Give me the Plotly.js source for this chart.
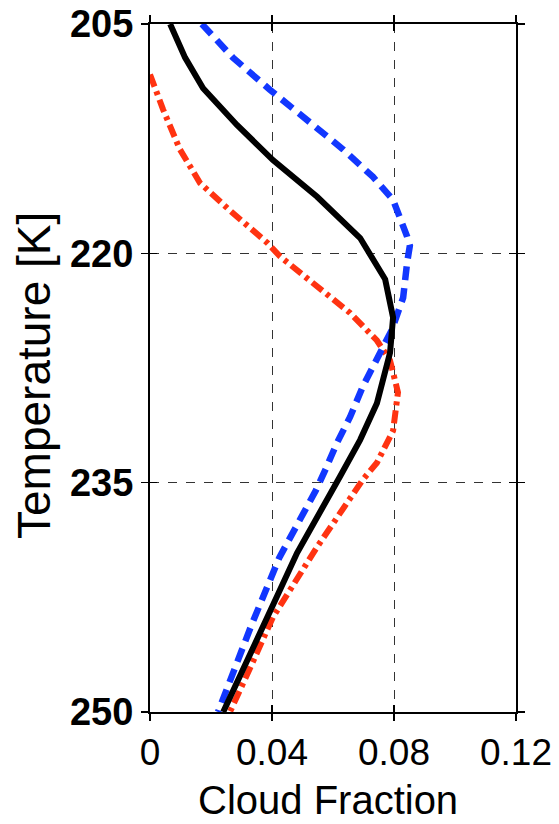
<!DOCTYPE html>
<html>
<head>
<meta charset="utf-8">
<script src="https://cdn.plot.ly/plotly-3.0.1.min.js"></script>
<style>html,body{margin:0;padding:0;background:#fff;}#chart{width:559px;height:824px;}</style>
</head>
<body>
<div id="chart"></div>
<script>
// Solid black curve
const blackT = [205, 207.2, 209.2, 211.6, 213.9, 216.3, 219.0, 221.7, 224.2, 226.5, 229.8, 232.2, 234.6, 239.6, 242.5, 245.9, 250];
const blackCF = [0.0066, 0.0115, 0.0174, 0.0285, 0.0403, 0.0548, 0.0689, 0.0771, 0.0797, 0.0787, 0.0744, 0.0689, 0.0623, 0.0482, 0.0415, 0.0335, 0.024];
// Blue dashed curve
const blueT = [205, 207.2, 209.3, 211.3, 213.2, 215.0, 216.5, 218.9, 219.5, 220.6, 222.9, 225.0, 226.8, 228.7, 230.7, 232.4, 234.2, 235.5, 239.9, 244.4, 250];
const blueCF = [0.017, 0.0272, 0.0393, 0.0515, 0.0633, 0.0731, 0.0797, 0.0843, 0.0852, 0.0843, 0.083, 0.0793, 0.0744, 0.0698, 0.0656, 0.0613, 0.0574, 0.0544, 0.0424, 0.0331, 0.0223];
// Red dash-dot curve
const redT = [208.3, 210.6, 213.2, 215.4, 217.2, 219.3, 220.2, 222.2, 223.9, 225.7, 227.0, 229.1, 231.6, 233.7, 234.8, 239.2, 243.8, 247.7, 250];
const redCF = [0.0, 0.0043, 0.0098, 0.0164, 0.0262, 0.0384, 0.0426, 0.0547, 0.0656, 0.0744, 0.0787, 0.0813, 0.0797, 0.0744, 0.0698, 0.0548, 0.0403, 0.0315, 0.0262];

const xTicks = [0, 0.04, 0.08, 0.12];
const xTickText = ['0', '0.04', '0.08', '0.12'];
const yTicks = [205, 220, 235, 250];
const yTickText = ['205', '220', '235', '250'];

const xTitle = 'Cloud Fraction';
const yTitle = 'Temperature [K]';

const FONT = 'Liberation Sans, Arial, Helvetica, sans-serif';

const traces = [
  {x: redCF, y: redT, mode: 'lines', line: {color: '#ff3311', width: 6, dash: '13px,5px,4px,5px'}, hoverinfo: 'skip'},
  {x: blueCF, y: blueT, mode: 'lines', line: {color: '#1237ff', width: 6.5, dash: '14px,8px'}, hoverinfo: 'skip'},
  {x: blackCF, y: blackT, mode: 'lines', line: {color: '#000000', width: 6}, hoverinfo: 'skip'},
  {x: [], y: [], xaxis: 'x2', yaxis: 'y2', mode: 'lines', hoverinfo: 'skip'}
];

const layout = {
  width: 559, height: 824,
  margin: {l: 150, r: 43, t: 24, b: 112, pad: 0},
  paper_bgcolor: '#ffffff', plot_bgcolor: '#ffffff',
  showlegend: false,
  xaxis: {
    range: [0, 0.12], tickvals: xTicks, ticktext: xTickText,
    showgrid: true, gridcolor: '#333333', gridwidth: 1, griddash: 'dash',
    zeroline: false, showline: true, linecolor: '#000', linewidth: 2, mirror: 'ticks',
    ticks: 'outside', ticklen: 7, tickwidth: 1.5, tickcolor: '#000',
    tickfont: {family: FONT, size: 37, color: '#000'},
    fixedrange: true
  },
  yaxis: {
    range: [250, 205], tickvals: yTicks, ticktext: yTickText,
    showgrid: true, gridcolor: '#333333', gridwidth: 1, griddash: 'dash',
    zeroline: false, showline: true, linecolor: '#000', linewidth: 2, mirror: 'ticks',
    ticks: 'outside', ticklen: 7, tickwidth: 1.5, tickcolor: '#000',
    tickfont: {family: FONT, size: 38, color: '#000', weight: 'bold'},
    fixedrange: true
  },
  xaxis2: {
    overlaying: 'x', range: [0, 0.12], tickvals: xTicks, showticklabels: false,
    showgrid: false, zeroline: false, showline: false, mirror: 'ticks',
    ticks: 'inside', ticklen: 7, tickwidth: 1.5, tickcolor: '#000', fixedrange: true
  },
  yaxis2: {
    overlaying: 'y', range: [250, 205], tickvals: yTicks, showticklabels: false,
    showgrid: false, zeroline: false, showline: false, mirror: 'ticks',
    ticks: 'inside', ticklen: 7, tickwidth: 1.5, tickcolor: '#000', fixedrange: true
  },
  annotations: [
    {text: xTitle, xref: 'paper', yref: 'paper', x: 0.5, y: 0, xanchor: 'center', yanchor: 'middle',
     xshift: -5, yshift: -88, showarrow: false, font: {family: FONT, size: 40, color: '#000'}},
    {text: yTitle, xref: 'paper', yref: 'paper', x: 0, y: 0.5, xanchor: 'center', yanchor: 'middle',
     xshift: -116, yshift: -8, textangle: -90, showarrow: false, font: {family: FONT, size: 46, color: '#000'}}
  ]
};

Plotly.newPlot('chart', traces, layout, {displayModeBar: false, staticPlot: true});
</script>
</body>
</html>
